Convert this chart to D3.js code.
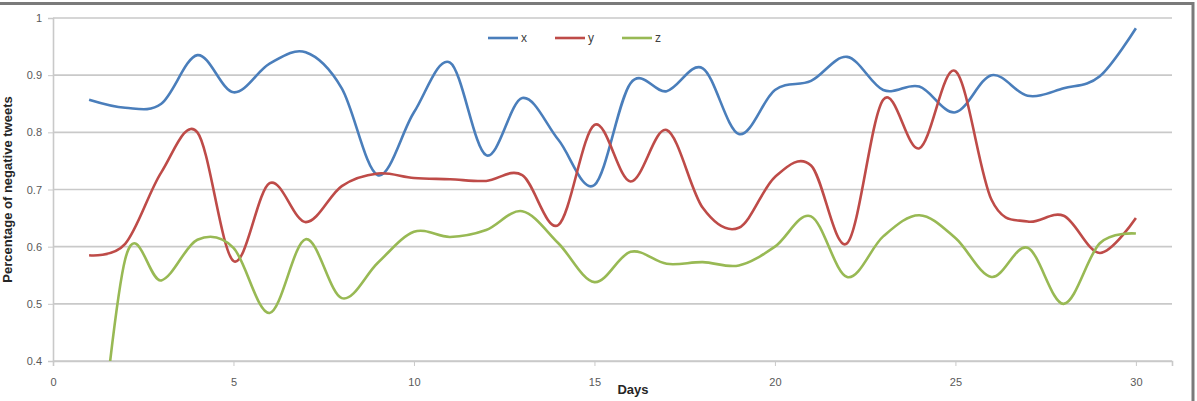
<!DOCTYPE html>
<html>
<head>
<meta charset="utf-8">
<script src="https://cdn.jsdelivr.net/npm/d3@7"></script>
<style>
	body { margin: 0; background: #fff; }
	svg { display: block; }
	.tick text { font-family: "Liberation Sans", Arial, sans-serif; font-size: 11px; fill: #595959; }
</style>
</head>
<body>
<script>

	// дни и значения серий
	const days = d3.range(1, 31);
	const xSeries = [0.857, 0.843, 0.85, 0.935, 0.87, 0.92, 0.94, 0.877, 0.725, 0.835, 0.922, 0.76, 0.86, 0.787, 0.708, 0.886, 0.872, 0.912, 0.797, 0.874, 0.89, 0.932, 0.874, 0.88, 0.835, 0.9, 0.864, 0.877, 0.898, 0.982];
	const ySeries = [0.585, 0.605, 0.73, 0.80, 0.575, 0.711, 0.643, 0.706, 0.728, 0.72, 0.718, 0.715, 0.725, 0.638, 0.813, 0.714, 0.804, 0.668, 0.633, 0.722, 0.742, 0.606, 0.857, 0.772, 0.907, 0.682, 0.644, 0.654, 0.589, 0.65];
	const zSeries = [0.05, 0.578, 0.541, 0.612, 0.598, 0.484, 0.613, 0.51, 0.572, 0.626, 0.617, 0.629, 0.662, 0.606, 0.538, 0.591, 0.57, 0.573, 0.567, 0.60, 0.653, 0.547, 0.618, 0.655, 0.615, 0.547, 0.598, 0.50, 0.606, 0.623];
	const seriesNames = ["x", "y", "z"];
	const yTicks = [0.4, 0.5, 0.6, 0.7, 0.8, 0.9, 1];
	const xTicks = [0, 5, 10, 15, 20, 25, 30];

	const colors = ["#4a7ebb", "#be4b48", "#98b954"];

	const w = 1197,
		h = 401,
		margin = { top: 18, right: 25, bottom: 40, left: 53 };

	const svg = d3
		.select("body")
		.append("svg")
		.attr("width", w)
		.attr("height", h);

	// рамка
	svg.append("line")
		.attr("x1", 0).attr("x2", 1194)
		.attr("y1", 3.5).attr("y2", 3.5)
		.attr("stroke", "#7a7a7a").attr("stroke-width", 3);
	svg.append("line")
		.attr("x1", 1193).attr("x2", 1193)
		.attr("y1", 2).attr("y2", h)
		.attr("stroke", "#7a7a7a").attr("stroke-width", 3);

	const xScale = d3.scaleLinear()
		.domain([0, 31])
		.range([margin.left, 1172]);

	const yScale = d3.scaleLinear()
		.domain([0.4, 1])
		.range([361, margin.top]);

	// сетка
	svg.append("g")
		.selectAll("line")
		.data(yTicks)
		.enter()
		.append("line")
		.attr("x1", xScale(0))
		.attr("x2", xScale(31))
		.attr("y1", d => yScale(d))
		.attr("y2", d => yScale(d))
		.attr("stroke", "#c9c9c9")
		.attr("stroke-width", 1.6);

	// оси
	const yAxis = svg.append("g")
		.attr("transform", `translate(${xScale(0)},0)`)
		.call(d3.axisLeft(yScale).tickValues(yTicks).tickFormat(d3.format("")).tickSize(5).tickPadding(6));
	yAxis.select(".domain").attr("stroke", "#c9c9c9").attr("stroke-width", 1.6);
	yAxis.selectAll(".tick line").attr("stroke", "#c9c9c9");

	const xAxis = svg.append("g")
		.attr("transform", `translate(0,${yScale(0.4)})`)
		.call(d3.axisBottom(xScale).tickValues(xTicks).tickSize(5).tickPadding(12));
	xAxis.select(".domain").attr("stroke", "#c9c9c9").attr("stroke-width", 1.6);
	xAxis.selectAll(".tick line").attr("stroke", "#c9c9c9");

	// подписи осей
	svg.append("text")
		.attr("transform", `translate(12,${(yScale(1) + yScale(0.4)) / 2}) rotate(-90)`)
		.attr("text-anchor", "middle")
		.attr("font-family", "Liberation Sans, Arial, sans-serif")
		.attr("font-size", "13px")
		.attr("font-weight", "bold")
		.attr("fill", "#262626")
		.text("Percentage of negative tweets");

	svg.append("text")
		.attr("x", 633)
		.attr("y", 394)
		.attr("text-anchor", "middle")
		.attr("font-family", "Liberation Sans, Arial, sans-serif")
		.attr("font-size", "13px")
		.attr("font-weight", "bold")
		.attr("fill", "#262626")
		.text("Days");

	// линии
	svg.append("clipPath")
		.attr("id", "plot")
		.append("rect")
		.attr("x", xScale(0))
		.attr("y", 0)
		.attr("width", xScale(31) - xScale(0))
		.attr("height", yScale(0.4));

	const line = d3.line()
		.x((d, i) => xScale(days[i]))
		.y(d => yScale(d))
		.curve(d3.curveCardinal.tension(0));

	svg.append("g")
		.attr("clip-path", "url(#plot)")
		.selectAll("path")
		.data([xSeries, ySeries, zSeries])
		.enter()
		.append("path")
		.attr("d", line)
		.attr("fill", "none")
		.attr("stroke", (d, i) => colors[i])
		.attr("stroke-width", 2.6)
		.attr("stroke-linejoin", "round");

	// легенда
	const legend = svg.append("g")
		.selectAll("g")
		.data(seriesNames)
		.enter()
		.append("g")
		.attr("transform", (d, i) => `translate(${488 + i * 67},38)`);

	legend.append("line")
		.attr("x1", 0).attr("x2", 30)
		.attr("stroke", (d, i) => colors[i])
		.attr("stroke-width", 2.6);

	legend.append("text")
		.attr("x", 33)
		.attr("y", 4)
		.attr("font-family", "Liberation Sans, Arial, sans-serif")
		.attr("font-size", "12px")
		.attr("fill", "#404040")
		.text(d => d);

</script>
</body>
</html>
